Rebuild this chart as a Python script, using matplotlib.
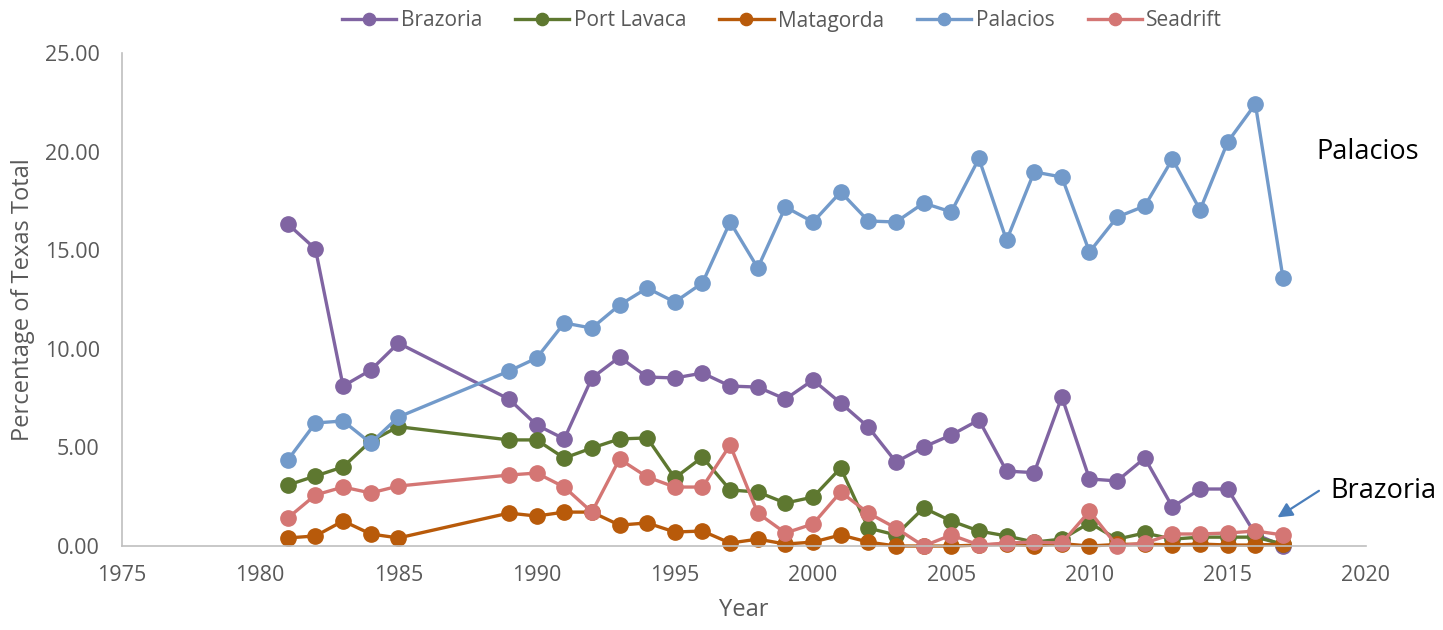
import numpy as np
import matplotlib.pyplot as plt
from matplotlib.ticker import FormatStrFormatter, MultipleLocator

plt.rcParams['font.family'] = ['Open Sans', 'DejaVu Sans']

years = [1981, 1982, 1983, 1984, 1985,
         1989, 1990, 1991, 1992, 1993, 1994, 1995, 1996, 1997, 1998, 1999,
         2000, 2001, 2002, 2003, 2004, 2005, 2006, 2007, 2008, 2009,
         2010, 2011, 2012, 2013, 2014, 2015, 2016, 2017]

brazoria = [16.33, 15.06, 8.11, 8.92, 10.29,
            7.45, 6.14, 5.43, 8.52, 9.58, 8.57, 8.52, 8.77, 8.11, 8.06, 7.45,
            8.42, 7.25, 6.03, 4.26, 5.02, 5.63, 6.39, 3.80, 3.72, 7.56,
            3.40, 3.30, 4.46, 1.98, 2.89, 2.89, 0.60, 0.0]

port_lavaca = [3.09, 3.55, 4.01, 5.32, 6.05,
               5.38, 5.38, 4.46, 4.97, 5.43, 5.48, 3.45, 4.51, 2.84, 2.74, 2.18,
               2.48, 3.96, 0.91, 0.56, 1.93, 1.27, 0.76, 0.51, 0.20, 0.35,
               1.17, 0.35, 0.66, 0.35, 0.45, 0.45, 0.45, 0.10]

matagorda = [0.41, 0.51, 1.27, 0.61, 0.41,
             1.67, 1.52, 1.72, 1.72, 1.06, 1.17, 0.71, 0.76, 0.15, 0.35, 0.10,
             0.20, 0.56, 0.20, 0.0, 0.0, 0.0, 0.05, 0.10, 0.0, 0.12,
             0.0, 0.08, 0.10, 0.05, 0.10, 0.05, 0.05, 0.10]

palacios = [4.36, 6.24, 6.34, 5.22, 6.54,
            8.87, 9.53, 11.31, 11.05, 12.22, 13.08, 12.37, 13.34, 16.43, 14.10, 17.19,
            16.43, 17.95, 16.48, 16.43, 17.39, 16.94, 19.65, 15.50, 18.97, 18.71,
            14.91, 16.68, 17.24, 19.62, 17.04, 20.49, 22.41, 13.59]

seadrift = [1.42, 2.59, 2.99, 2.69, 3.04,
            3.60, 3.70, 2.99, 1.72, 4.41, 3.50, 2.99, 2.99, 5.12, 1.67, 0.66,
            1.12, 2.74, 1.67, 0.91, 0.0, 0.56, 0.05, 0.15, 0.20, 0.15,
            1.77, 0.0, 0.15, 0.61, 0.61, 0.66, 0.76, 0.56]

series = [
    ("Brazoria", brazoria, "#8064A2"),
    ("Port Lavaca", port_lavaca, "#5E7830"),
    ("Matagorda", matagorda, "#B85A0A"),
    ("Palacios", palacios, "#729ACA"),
    ("Seadrift", seadrift, "#D47674"),
]

fig = plt.figure(figsize=(14.43, 6.3), dpi=100)
ax = fig.add_axes([0.0845, 0.1333, 0.8621, 0.7826])

for name, vals, col in series:
    ax.plot(years, vals, color=col, lw=2.4, marker="o", markersize=11,
            label=name, clip_on=False)

ax.set_xlim(1975, 2020)
ax.set_ylim(0, 25)
ax.xaxis.set_major_locator(MultipleLocator(5))
ax.yaxis.set_major_locator(MultipleLocator(5))
ax.yaxis.set_major_formatter(FormatStrFormatter("%.2f"))

for s in ["top", "right"]:
    ax.spines[s].set_visible(False)
for s in ["left", "bottom"]:
    ax.spines[s].set_color("#BFBFBF")
    ax.spines[s].set_linewidth(1.2)
ax.tick_params(length=0, labelsize=15.5, colors="#595959")
ax.tick_params(axis="x", pad=14)
ax.tick_params(axis="y", pad=16)

ax.set_xlabel("Year", fontsize=17, color="#595959", labelpad=8)
ax.set_ylabel("Percentage of Texas Total", fontsize=17, color="#595959", labelpad=7)

fig.legend(loc="center", bbox_to_anchor=(782 / 1443, 1 - 21 / 630), ncol=5,
           frameon=False, fontsize=15, labelcolor="#595959", handlelength=2.6,
           columnspacing=1.6, handletextpad=0.2, markerscale=0.8)

# labels on the right
ax.text(2018.2, 20.0, "Palacios", fontsize=19.5, color="black", va="center",
        clip_on=False)
ax.text(2018.7, 2.8, "Brazoria", fontsize=19.5, color="black", va="center",
        clip_on=False)
ax.annotate("", xy=(2016.8, 1.45), xytext=(2018.3, 2.8), annotation_clip=False,
            arrowprops=dict(arrowstyle="-|>", color="#4A7EBB", lw=1.6,
                            mutation_scale=22, shrinkA=0, shrinkB=0))

fig.savefig("out.png", dpi=100)
